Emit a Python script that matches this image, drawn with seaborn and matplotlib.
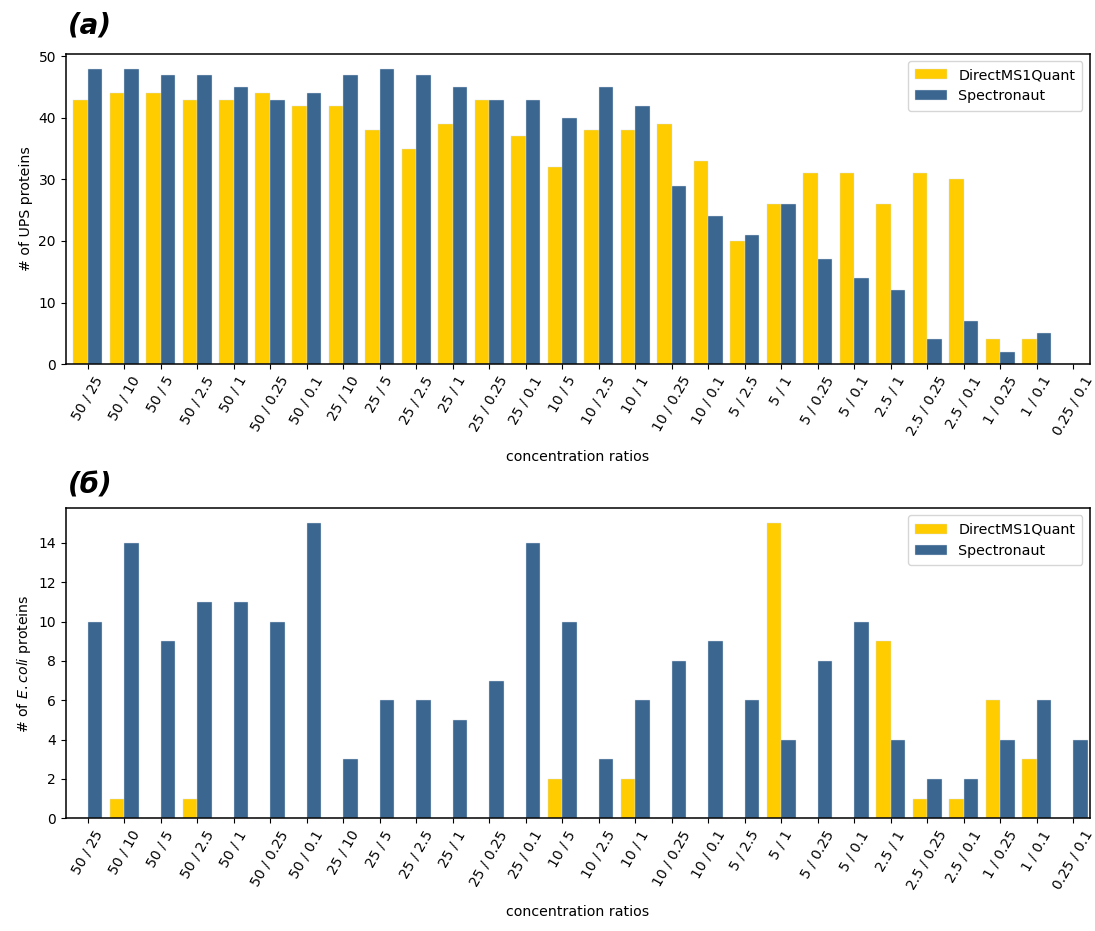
import numpy as np
import pandas as pd
import seaborn as sns
import matplotlib
matplotlib.use("Agg")
import matplotlib.pyplot as plt

categories = ["50 / 25", "50 / 10", "50 / 5", "50 / 2.5", "50 / 1", "50 / 0.25", "50 / 0.1",
              "25 / 10", "25 / 5", "25 / 2.5", "25 / 1", "25 / 0.25", "25 / 0.1",
              "10 / 5", "10 / 2.5", "10 / 1", "10 / 0.25", "10 / 0.1",
              "5 / 2.5", "5 / 1", "5 / 0.25", "5 / 0.1",
              "2.5 / 1", "2.5 / 0.25", "2.5 / 0.1", "1 / 0.25", "1 / 0.1", "0.25 / 0.1"]
series_names = ["DirectMS1Quant", "Spectronaut"]

ups_direct = [43, 44, 44, 43, 43, 44, 42, 42, 38, 35, 39, 43, 37, 32, 38, 38, 39, 33,
              20, 26, 31, 31, 26, 31, 30, 4, 4, 0]
ups_spectro = [48, 48, 47, 47, 45, 43, 44, 47, 48, 47, 45, 43, 43, 40, 45, 42, 29, 24,
               21, 26, 17, 14, 12, 4, 7, 2, 5, 0]
ecoli_direct = [0, 1, 0, 1, 0, 0, 0, 0, 0, 0, 0, 0, 0, 2, 0, 2, 0, 0,
                0, 15, 0, 0, 9, 1, 1, 6, 3, 0]
ecoli_spectro = [10, 14, 9, 11, 11, 10, 15, 3, 6, 6, 5, 7, 14, 10, 3, 6, 8, 9,
                 6, 4, 8, 10, 4, 2, 2, 4, 6, 4]

colors = ["#FFCC00", "#3A6690"]


def long_df(a, b):
    return pd.DataFrame({
        "ratio": categories * 2,
        "count": list(a) + list(b),
        "method": [series_names[0]] * len(categories) + [series_names[1]] * len(categories),
    })


fig = plt.figure(figsize=(10.95, 9.31), dpi=100)
ax1 = fig.add_axes([0.060, 0.609, 0.935, 0.333])
ax2 = fig.add_axes([0.060, 0.121, 0.935, 0.333])

panels = [
    (ax1, long_df(ups_direct, ups_spectro), "# of UPS proteins", "(a)"),
    (ax2, long_df(ecoli_direct, ecoli_spectro), r"# of $\it{E. coli}$ proteins", "(б)"),
]

for ax, df, ylab, tag in panels:
    sns.barplot(data=df, x="ratio", y="count", hue="method", palette=colors,
                width=0.8, ax=ax, edgecolor="#d5dee8", linewidth=0.3, saturation=1,
                errorbar=None)
    ax.set_xlim(-0.6, 27.45)
    ax.set_xlabel("concentration ratios", fontsize=10.2, labelpad=9)
    ax.set_ylabel(ylab, fontsize=10.2)
    ax.tick_params(axis="x", labelrotation=60, labelsize=10)
    ax.tick_params(axis="y", labelsize=10)
    for lbl in ax.get_xticklabels():
        lbl.set_horizontalalignment("center")
    for sp in ax.spines.values():
        sp.set_linewidth(1.1)
    leg = ax.legend(loc="upper right", fontsize=10.3, framealpha=0.8,
                    handlelength=2.2, borderpad=0.5)
    leg.set_title(None)

ax1.set_ylim(0, 50.4)
ax2.set_ylim(0, 15.75)
ax2.set_yticks(np.arange(0, 15, 2))

fig.text(0.062, 0.973, "(a)", fontsize=20, fontweight="bold", style="italic",
         va="center", ha="left")
fig.text(0.062, 0.478, "(б)", fontsize=20, fontweight="bold", style="italic",
         va="center", ha="left")

fig.savefig("out.png", dpi=100)
